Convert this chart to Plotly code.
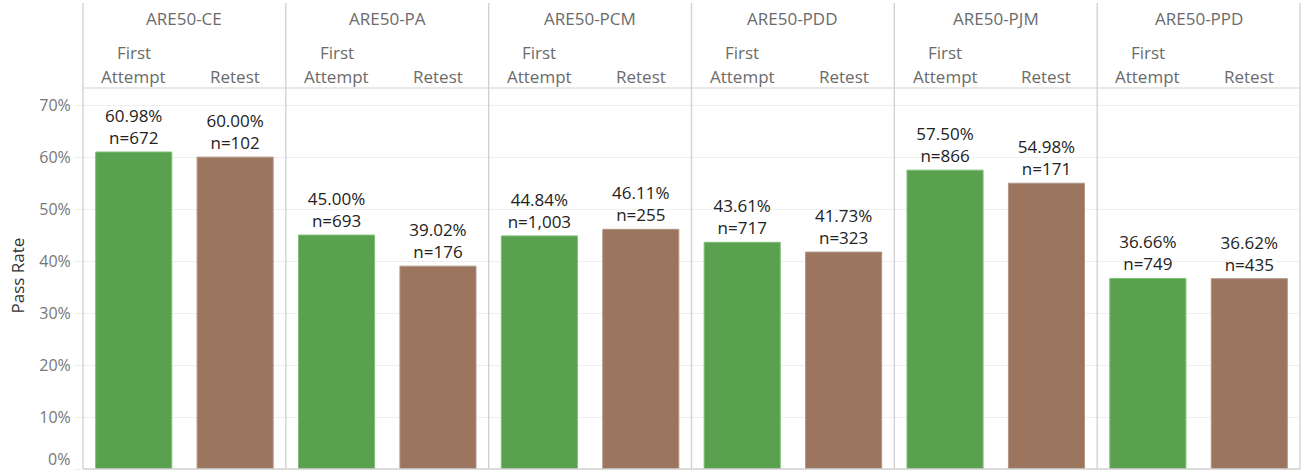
import plotly.graph_objects as go

exams = ["ARE50-CE", "ARE50-PA", "ARE50-PCM", "ARE50-PDD", "ARE50-PJM", "ARE50-PPD"]
first_rate = [60.98, 45.00, 44.84, 43.61, 57.50, 36.66]
first_n = [672, 693, 1003, 717, 866, 749]
retest_rate = [60.00, 39.02, 46.11, 41.73, 54.98, 36.62]
retest_n = [102, 176, 255, 323, 171, 435]
y_ticks = [0, 10, 20, 30, 40, 50, 60, 70]

GREEN = "#59A14F"
BROWN = "#9C755F"
FONT = "Open Sans"
HDR = "#6b6b6b"
TICK = "#777"

n_ex = len(exams)
x_first = [2 * i for i in range(n_ex)]
x_retest = [2 * i + 1 for i in range(n_ex)]

fig = go.Figure()
for xs, ys, ns, col, edge in [
    (x_first, first_rate, first_n, GREEN, "#7dbd74"),
    (x_retest, retest_rate, retest_n, BROWN, "#b09585"),
]:
    fig.add_trace(go.Bar(
        x=xs, y=ys, customdata=ns,
        marker=dict(color=col, line=dict(color=edge, width=1)),
        width=0.75,
        texttemplate="%{y:.2f}%<br>n=%{customdata:,}",
        textposition="outside",
        textfont=dict(family=FONT, size=17, color="#222"),
        cliponaxis=False,
        hoverinfo="skip",
        showlegend=False,
    ))

annotations = []
for i, ex in enumerate(exams):
    annotations.append(dict(
        x=2 * i + 0.5, xref="x", y=1, yref="paper", yshift=70,
        text=ex, showarrow=False, yanchor="middle",
        font=dict(family=FONT, size=17, color=HDR),
    ))
    annotations.append(dict(
        x=2 * i, xref="x", y=1, yref="paper", yshift=36,
        text="First", showarrow=False, yanchor="middle",
        font=dict(family=FONT, size=17, color=HDR),
    ))
    annotations.append(dict(
        x=2 * i, xref="x", y=1, yref="paper", yshift=12,
        text="Attempt", showarrow=False, yanchor="middle",
        font=dict(family=FONT, size=17, color=HDR),
    ))
    annotations.append(dict(
        x=2 * i + 1, xref="x", y=1, yref="paper", yshift=12,
        text="Retest", showarrow=False, yanchor="middle",
        font=dict(family=FONT, size=17, color=HDR),
    ))
annotations.append(dict(
    x=0, xref="paper", xshift=-66, y=0.5, yref="paper", yshift=3,
    text="Pass Rate", textangle=-90, showarrow=False,
    xanchor="center", yanchor="middle",
    font=dict(family=FONT, size=17, color="#333"),
))
# bottom tick label is nudged up so it stays inside the view (as in the reference)
annotations.append(dict(
    x=0, xref="paper", xshift=-11, y=y_ticks[0], yref="y", yshift=10,
    text=f"{y_ticks[0]}%", showarrow=False,
    xanchor="right", yanchor="middle",
    font=dict(family=FONT, size=16, color=TICK),
))

shapes = []
top = 1 + 85 / 381
for k in range(n_ex + 1):
    shapes.append(dict(type="line", xref="paper", yref="paper",
                       x0=k / n_ex, x1=k / n_ex, y0=0, y1=top,
                       line=dict(color="#d0d0d0", width=1.3)))
shapes.append(dict(type="line", xref="paper", yref="paper",
                   x0=0, x1=1, y0=1, y1=1,
                   line=dict(color="#d4d4d4", width=1.2)))
shapes.append(dict(type="line", xref="paper", yref="paper",
                   x0=0, x1=1, y0=0, y1=0,
                   line=dict(color="#cfcfcf", width=1.5)))

fig.update_layout(
    width=1304, height=472,
    margin=dict(l=83, r=4, t=88, b=3),
    paper_bgcolor="white", plot_bgcolor="white",
    bargap=0,
    annotations=annotations,
    shapes=shapes,
    font=dict(family=FONT),
    xaxis=dict(range=[-0.5, 2 * n_ex - 0.5], showticklabels=False,
               showgrid=False, zeroline=False, fixedrange=True),
    yaxis=dict(range=[0, 73.3], tickvals=y_ticks,
               ticktext=["" if v == 0 else f"{v}%" for v in y_ticks],
               showgrid=True, gridcolor="#efefef", gridwidth=1,
               zeroline=False, showline=False,
               ticks="outside", ticklen=8, tickcolor="#efefef",
               tickfont=dict(family=FONT, size=16, color=TICK),
               fixedrange=True),
)

fig.write_html(
    "out.html",
    config={"displayModeBar": False, "staticPlot": True},
    post_script="document.body.style.margin='0';document.body.style.overflow='hidden';",
)
